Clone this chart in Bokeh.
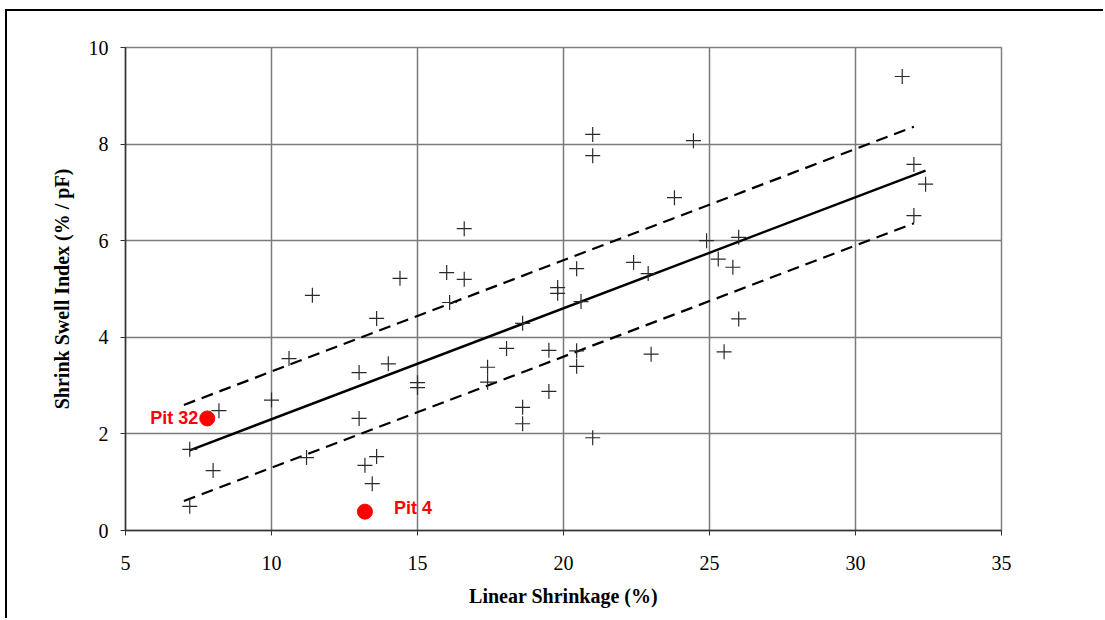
from bokeh.plotting import figure
from bokeh.models import Range1d, FixedTicker, ColumnDataSource
from bokeh.core.properties import value
from bokeh.embed import file_html
from bokeh.resources import INLINE

# Data
shrinkage = [7.2, 7.2, 8.0, 8.2, 10.0, 10.6, 11.4, 11.2, 13.0, 13.0, 13.6, 14.0,
             14.4, 15.0, 15.0, 13.6, 13.2, 13.45, 16.0, 16.1, 16.6, 16.6, 17.4,
             17.4, 18.05, 18.6, 18.6, 18.6, 19.5, 19.5, 19.8, 19.8, 20.45, 20.45,
             20.45, 20.6, 21.0, 21.0, 21.0, 22.4, 22.9, 23.0, 23.8, 24.45, 24.9,
             25.3, 25.5, 25.8, 26.0, 26.0, 31.6, 32.0, 32.0, 32.4]
swell_index = [1.68, 0.5, 1.24, 2.48, 2.7, 3.56, 4.87, 1.51, 3.27, 2.32, 4.39, 3.45,
               5.22, 3.06, 2.96, 1.53, 1.35, 0.97, 5.34, 4.72, 6.25, 5.2, 3.38,
               3.07, 3.77, 4.29, 2.55, 2.21, 3.73, 2.88, 5.03, 4.91, 5.42, 3.72,
               3.4, 4.74, 8.2, 7.76, 1.92, 5.55, 5.32, 3.65, 6.89, 8.07, 6.0,
               5.62, 3.7, 5.45, 6.07, 4.38, 9.4, 7.58, 6.52, 7.17]

fit_x = [7.2, 32.4]
fit_y = [1.66, 7.45]
band_x = [7.0, 32.0]
band_upper = [2.6, 8.36]
band_lower = [0.61, 6.36]

pit_names = ["Pit 32", "Pit 4"]
pit_x = [7.8, 13.2]
pit_y = [2.32, 0.39]

x_ticks = [5, 10, 15, 20, 25, 30, 35]
y_ticks = [0, 2, 4, 6, 8, 10]

p = figure(width=1098, height=609, x_range=Range1d(5, 35), y_range=Range1d(0, 10),
           output_backend="svg", toolbar_location=None,
           min_border_left=118, min_border_right=104,
           min_border_top=36, min_border_bottom=90)
p.styles = {"margin-top": "9px", "margin-left": "5px",
            "border-top": "2px solid #000", "border-left": "2px solid #000"}
p.background_fill_color = "white"
p.border_fill_color = "white"
p.outline_line_color = "#808080"
p.outline_line_width = 1.5

grey = "#7a7a7a"
for g in (p.xgrid, p.ygrid):
    g.grid_line_color = grey
    g.grid_line_width = 1.5
p.xgrid.ticker = FixedTicker(ticks=x_ticks)
p.ygrid.ticker = FixedTicker(ticks=y_ticks)

p.xaxis.ticker = FixedTicker(ticks=x_ticks)
p.yaxis.ticker = FixedTicker(ticks=y_ticks)
for ax in (p.xaxis, p.yaxis):
    ax.axis_line_color = "#333333"
    ax.axis_line_width = 1.5
    ax.major_tick_line_color = "#333333"
    ax.major_tick_out = 5
    ax.major_tick_in = 0
    ax.minor_tick_line_color = None
    ax.major_label_text_font = "Liberation Serif"
    ax.major_label_text_font_size = "20px"
    ax.major_label_text_color = "black"
    ax.axis_label_text_font = "Liberation Serif"
    ax.axis_label_text_font_size = "20px"
    ax.axis_label_text_font_style = "bold"
    ax.axis_label_text_color = "black"
p.xaxis.axis_label = "Linear Shrinkage (%)"
p.yaxis.axis_label = "Shrink Swell Index (% / pF)"
p.xaxis.major_label_standoff = 20
p.yaxis.major_label_standoff = 12
p.xaxis.axis_label_standoff = 12
p.yaxis.axis_label_standoff = 13

# regression and band lines
p.line(band_x, band_upper, line_color="black", line_width=2.2, line_dash="12 7")
p.line(band_x, band_lower, line_color="black", line_width=2.2, line_dash="12 7")
p.line(fit_x, fit_y, line_color="black", line_width=2.4)

# data points
src = ColumnDataSource(data=dict(x=shrinkage, y=swell_index))
p.scatter("x", "y", source=src, marker="cross", size=15,
          line_color="#2a2a2a", line_width=1.2)

# highlighted pits
p.scatter(pit_x, pit_y, marker="circle", size=15, fill_color="#ff0000",
          line_color="#ff0000")
p.text([pit_x[0]], [pit_y[0]], text=[pit_names[0]], x_offset=-9, y_offset=0,
       text_align="right", text_baseline="middle", text_color="#ff0000",
       text_font=value("Liberation Sans"), text_font_style="bold",
       text_font_size="18px")
p.text([pit_x[1]], [pit_y[1]], text=[pit_names[1]], x_offset=29, y_offset=-4,
       text_align="left", text_baseline="middle", text_color="#ff0000",
       text_font=value("Liberation Sans"), text_font_style="bold",
       text_font_size="18px")

open("out.html", "w").write(file_html(p, INLINE))
